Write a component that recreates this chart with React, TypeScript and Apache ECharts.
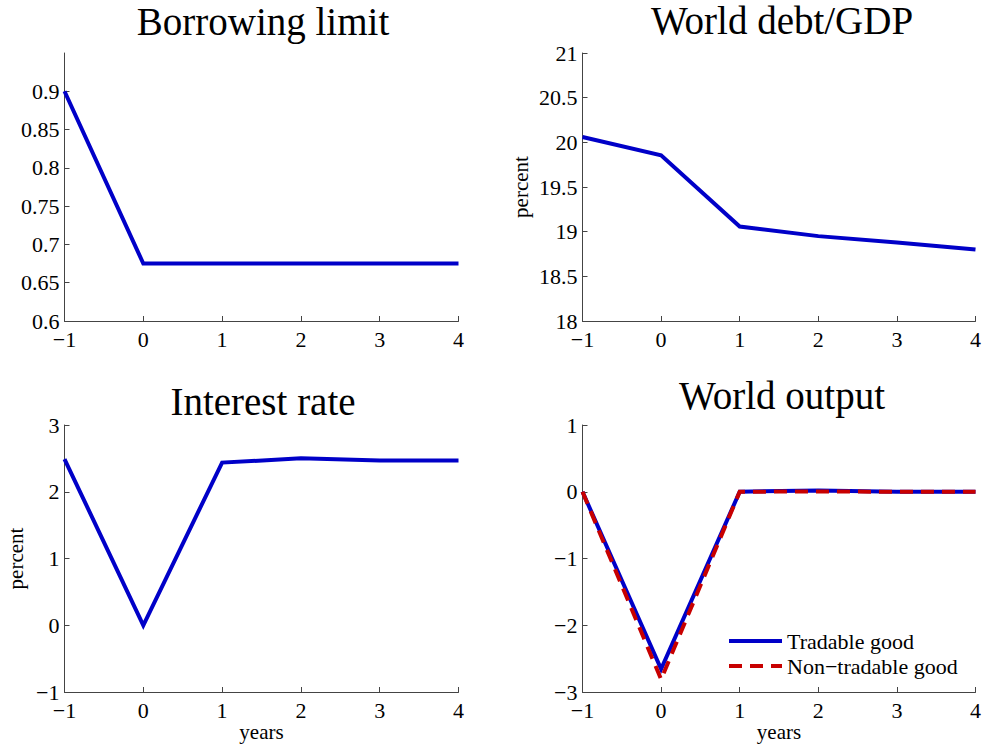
import React, { useEffect, useRef } from 'react';
import * as echarts from 'echarts';

const years = [-1, 0, 1, 2, 3, 4];
const borrowingLimit = [0.9, 0.675, 0.675, 0.675, 0.675, 0.675];
const worldDebtGdp = [20.06, 19.855, 19.057, 18.95, 18.88, 18.8];
const interestRate = [2.49, 0, 2.437, 2.5, 2.47, 2.47];
const outputTradable = [0, -2.655, 0, 0.02, 0, 0];
const outputNonTradable = [0, -2.81, 0, 0.005, 0, 0];
const borrowingTicks = [0.6, 0.65, 0.7, 0.75, 0.8, 0.85, 0.9];
const titles = ['Borrowing limit', 'World debt/GDP', 'Interest rate', 'World output'];
const legendNames = ['Tradable good', 'Non\u2212tradable good'];

const FONT = "'Liberation Serif', serif";
const AXIS = '#444';
const BLUE = '#0000c8';
const RED = '#c80000';

const fmt = (v: number) => {
  const s = String(parseFloat(Number(v).toFixed(3)));
  return s.replace('-', '\u2212');
};

const pairs = (ys: number[]) => years.map((x, i) => [x, ys[i]]);

const grids = [
  { left: 64.5, top: 53, width: 394, height: 268 },
  { left: 582.5, top: 53, width: 394, height: 268 },
  { left: 64.5, top: 425, width: 394, height: 267 },
  { left: 582.5, top: 425, width: 394, height: 267 },
];

function xAxis(gridIndex: number, withName: boolean) {
  return {
    type: 'value',
    gridIndex,
    min: -1,
    max: 4,
    interval: 1,
    axisLine: { show: true, onZero: false, lineStyle: { color: AXIS, width: 1 } },
    axisTick: { show: true, inside: true, length: 5, lineStyle: { color: AXIS, width: 1 } },
    axisLabel: { color: '#000', fontFamily: FONT, fontSize: 22, margin: 7, formatter: fmt },
    splitLine: { show: false },
    name: withName ? 'years' : '',
    nameLocation: 'middle',
    nameGap: 27,
    nameTextStyle: { color: '#000', fontFamily: FONT, fontSize: 21 },
  };
}

function yAxis(gridIndex: number, min: number, max: number, interval: number, name: string, nameGap: number, extra: any = {}) {
  return {
    type: 'value',
    gridIndex,
    min,
    max,
    interval,
    axisLine: { show: true, onZero: false, lineStyle: { color: AXIS, width: 1 } },
    axisTick: { show: true, inside: true, length: 5, lineStyle: { color: AXIS, width: 1 }, ...(extra.tick || {}) },
    axisLabel: { color: '#000', fontFamily: FONT, fontSize: 22, margin: 5, formatter: fmt, ...(extra.label || {}) },
    splitLine: { show: false },
    name,
    nameLocation: 'middle',
    nameGap,
    nameRotate: 90,
    nameTextStyle: { color: '#000', fontFamily: FONT, fontSize: 21 },
  };
}

const titlePos = [
  { x: 263, y: 21 },
  { x: 782, y: 20 },
  { x: 263, y: 401 },
  { x: 782, y: 395 },
];

export default function App() {
  const ref = useRef<HTMLDivElement>(null);
  useEffect(() => {
    const chart = echarts.init(ref.current!, null, { renderer: 'svg' });
    const line = (name: string, data: number[], idx: number, color: string, dashed = false) => ({
      type: 'line',
      name,
      xAxisIndex: idx,
      yAxisIndex: idx,
      data: pairs(data),
      symbol: 'none',
      showSymbol: false,
      lineStyle: { color, width: 4, type: dashed ? [13, 8] : 'solid', cap: 'butt', join: 'miter' },
      itemStyle: { color },
      silent: true,
    });
    chart.setOption({
      animation: false,
      backgroundColor: '#fff',
      grid: grids,
      xAxis: [xAxis(0, false), xAxis(1, false), xAxis(2, true), xAxis(3, true)],
      yAxis: [
        yAxis(0, 0.6, 0.95, 0.05, '', 0, {
          tick: { customValues: borrowingTicks },
          label: { customValues: borrowingTicks },
        }),
        yAxis(1, 18, 21, 0.5, 'percent', 51),
        yAxis(2, -1, 3, 1, 'percent', 38),
        yAxis(3, -3, 1, 1, '', 0),
      ],
      legend: {
        data: legendNames,
        orient: 'vertical',
        left: 722,
        top: 625,
        itemWidth: 53,
        itemHeight: 14,
        itemGap: 3,
        itemStyle: { color: 'rgba(0,0,0,0)', borderColor: 'rgba(0,0,0,0)', borderWidth: 0 },
        lineStyle: { width: 4 },
        textStyle: { color: '#000', fontFamily: FONT, fontSize: 22 },
        selectedMode: false,
      },
      graphic: titles.map((t, i) => ({
        type: 'text',
        x: titlePos[i].x,
        y: titlePos[i].y,
        style: {
          text: t,
          fontSize: 39,
          fontFamily: FONT,
          fill: '#000',
          textAlign: 'center',
          textVerticalAlign: 'middle',
          align: 'center',
          verticalAlign: 'middle',
        },
      })),
      series: [
        line('Borrowing limit', borrowingLimit, 0, BLUE),
        line('World debt/GDP', worldDebtGdp, 1, BLUE),
        line('Interest rate', interestRate, 2, BLUE),
        line(legendNames[0], outputTradable, 3, BLUE),
        line(legendNames[1], outputNonTradable, 3, RED, true),
      ],
    });
    return () => chart.dispose();
  }, []);
  return (
    <div
      ref={ref}
      style={{ position: 'absolute', left: 0, top: 0, width: 984, height: 744, background: '#fff' }}
    />
  );
}
